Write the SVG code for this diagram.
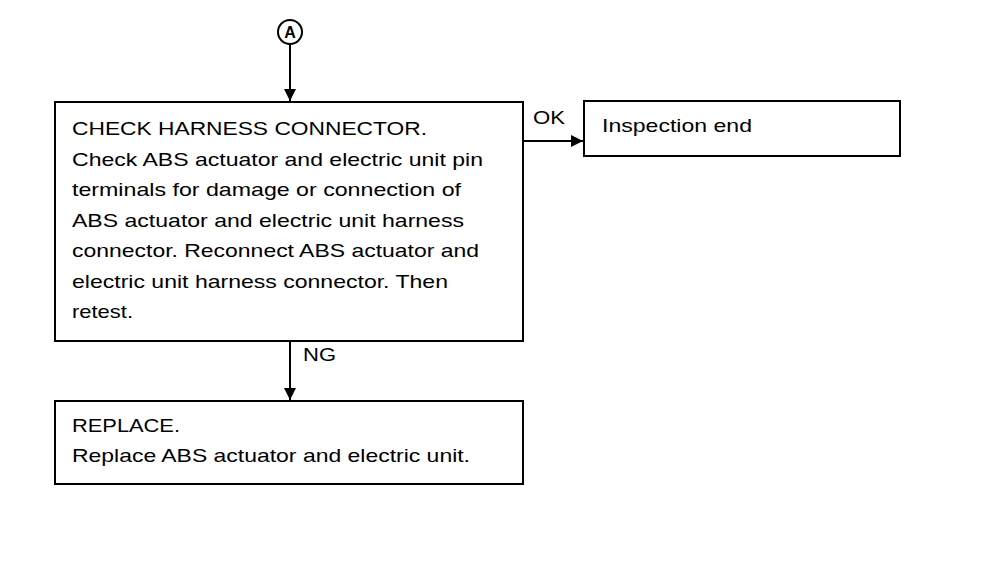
<svg xmlns="http://www.w3.org/2000/svg" width="992" height="566" viewBox="0 0 992 566">
<style>
.box{fill:#fff;stroke:#000;stroke-width:2}
.t{font-family:"Liberation Sans",Arial,Helvetica,sans-serif;font-size:19px;fill:#000}
.c{stroke:#000;stroke-width:2;fill:none}
</style>
<defs>
<marker id="ah" markerWidth="12" markerHeight="12" refX="10" refY="5" orient="auto" markerUnits="userSpaceOnUse" viewBox="0 0 10 10">
<path d="M0,0 L10,5 L0,10 Z" fill="#000"/>
</marker>
</defs>
<rect width="992" height="566" fill="#fff"/>
<g id="connectors">
<line class="c" x1="290" y1="44" x2="290" y2="101" marker-end="url(#ah)"/>
<line class="c" x1="523" y1="141" x2="583" y2="141" marker-end="url(#ah)"/>
<line class="c" x1="290" y1="341" x2="290" y2="400" marker-end="url(#ah)"/>
<text class="t" x="533" y="124" textLength="32" lengthAdjust="spacingAndGlyphs">OK</text>
<text class="t" x="303" y="361" textLength="33" lengthAdjust="spacingAndGlyphs">NG</text>
</g>
<g id="nodeA">
<circle cx="290" cy="32" r="12" fill="#fff" stroke="#000" stroke-width="2"/>
<text x="290" y="38" text-anchor="middle" font-family="Liberation Sans,Arial,sans-serif" font-weight="bold" font-size="16">A</text>
</g>
<g id="check">
<rect class="box" x="55" y="102" width="468" height="239"/>
<text class="t" x="72" y="135" textLength="355" lengthAdjust="spacingAndGlyphs">CHECK HARNESS CONNECTOR.</text>
<text class="t" x="72" y="166" textLength="411" lengthAdjust="spacingAndGlyphs">Check ABS actuator and electric unit pin</text>
<text class="t" x="72" y="196" textLength="389" lengthAdjust="spacingAndGlyphs">terminals for damage or connection of</text>
<text class="t" x="72" y="227" textLength="392" lengthAdjust="spacingAndGlyphs">ABS actuator and electric unit harness</text>
<text class="t" x="72" y="257" textLength="407" lengthAdjust="spacingAndGlyphs">connector. Reconnect ABS actuator and</text>
<text class="t" x="72" y="288" textLength="376" lengthAdjust="spacingAndGlyphs">electric unit harness connector. Then</text>
<text class="t" x="72" y="318" textLength="61" lengthAdjust="spacingAndGlyphs">retest.</text>
</g>
<g id="inspection">
<rect class="box" x="584" y="101" width="316" height="55"/>
<text class="t" x="602" y="132" textLength="150" lengthAdjust="spacingAndGlyphs">Inspection end</text>
</g>
<g id="replace">
<rect class="box" x="55" y="401" width="468" height="83"/>
<text class="t" x="72" y="432" textLength="108" lengthAdjust="spacingAndGlyphs">REPLACE.</text>
<text class="t" x="72" y="462" textLength="398" lengthAdjust="spacingAndGlyphs">Replace ABS actuator and electric unit.</text>
</g>
</svg>
